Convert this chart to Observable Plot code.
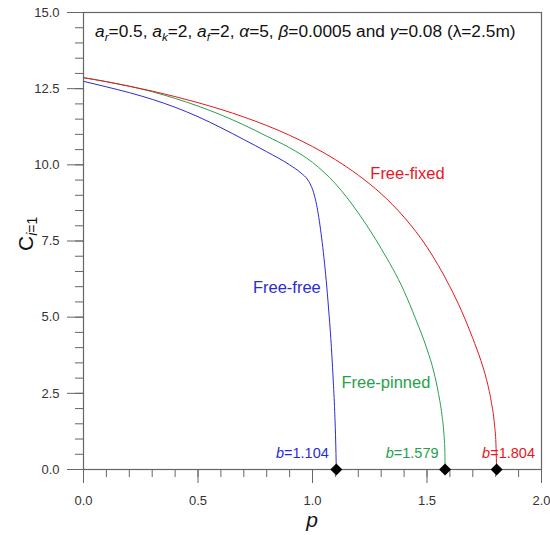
<!DOCTYPE html>
<html>
<head>
<meta charset="utf-8">
<script src="https://cdn.jsdelivr.net/npm/d3@7"></script>
<script src="https://cdn.jsdelivr.net/npm/@observablehq/plot@0.6"></script>
<style>
  html, body { margin: 0; padding: 0; background: #fff; }
</style>
</head>
<body>
<div id="chart"></div>
<script>
// ---------- data ----------
const seriesNames = ["Free-free", "Free-pinned", "Free-fixed"];
const seriesColors = ["#2b2bd6", "#27a04c", "#e8161e"];

const freeFreeP = [0, 0.1, 0.2, 0.3, 0.4, 0.5, 0.6, 0.7, 0.8, 0.9, 0.95, 0.98, 1.0, 1.01, 1.02, 1.03, 1.04, 1.05, 1.06, 1.07, 1.08, 1.09, 1.097, 1.101, 1.104];
const freeFreeC = [12.74, 12.56, 12.37, 12.15, 11.89, 11.58, 11.22, 10.83, 10.43, 10.0, 9.73, 9.5, 9.2, 8.95, 8.61, 8.15, 7.6, 6.95, 6.2, 5.3, 4.3, 3.0, 1.9, 1.0, 0];

const freePinnedP = [0, 0.1, 0.2, 0.3, 0.4, 0.5, 0.6, 0.7, 0.8, 0.9, 1.0, 1.1, 1.2, 1.3, 1.4, 1.45, 1.5, 1.53, 1.55, 1.565, 1.574, 1.578, 1.579];
const freePinnedC = [12.86, 12.73, 12.58, 12.4, 12.18, 11.93, 11.64, 11.31, 10.94, 10.56, 10.08, 9.38, 8.42, 7.25, 5.85, 4.95, 3.95, 3.2, 2.5, 1.8, 1.15, 0.6, 0];

const freeFixedP = [0, 0.1, 0.2, 0.3, 0.4, 0.5, 0.6, 0.7, 0.8, 0.9, 1.0, 1.1, 1.2, 1.3, 1.4, 1.5, 1.6, 1.65, 1.7, 1.735, 1.76, 1.78, 1.795, 1.801, 1.804];
const freeFixedC = [12.86, 12.73, 12.58, 12.42, 12.24, 12.04, 11.82, 11.57, 11.29, 10.97, 10.6, 10.17, 9.66, 9.05, 8.28, 7.3, 6.0, 5.22, 4.3, 3.58, 2.95, 2.25, 1.45, 0.85, 0];

const rootP = [1.104, 1.579, 1.804];
const rootLabels = ["=1.104", "=1.579", "=1.804"];

const xTicks = [0, 0.5, 1.0, 1.5, 2.0];
const xTickLabels = ["0.0", "0.5", "1.0", "1.5", "2.0"];
const yTicks = [0, 2.5, 5.0, 7.5, 10.0, 12.5, 15.0];
const yTickLabels = ["0.0", "2.5", "5.0", "7.5", "10.0", "12.5", "15.0"];
const xMinor = d3.range(0, 2.0001, 0.1).map(v => +v.toFixed(2));
const yMinor = d3.range(0, 15.0001, 0.5).map(v => +v.toFixed(2));

// ---------- build rows ----------
const seriesData = [[freeFreeP, freeFreeC], [freePinnedP, freePinnedC], [freeFixedP, freeFixedC]];
const rows = [];
seriesData.forEach(([ps, cs], k) => ps.forEach((p, i) => rows.push({series: seriesNames[k], p, C: cs[i]})));
const roots = rootP.map((p, i) => ({p, C: 0, label: rootLabels[i], series: seriesNames[i]}));

const FONT = "'Liberation Sans', Arial, Helvetica, sans-serif";
const AX = "#666";

const chart = Plot.plot({
  width: 550,
  height: 535,
  marginLeft: 83,
  marginRight: 9,
  marginTop: 12,
  marginBottom: 66,
  x: {domain: [0, 2]},
  y: {domain: [0, 15]},
  color: {domain: seriesNames, range: seriesColors},
  style: {fontFamily: FONT, fontSize: "13px", color: "#333", background: "#fff", overflow: "visible"},
  marks: [
    Plot.axisX(xMinor, {tickSize: 8, tickFormat: () => "", stroke: AX, label: null}),
    Plot.axisX(xTicks, {tickSize: 14, tickPadding: 12, tickFormat: d => xTickLabels[xTicks.indexOf(d)], stroke: AX, fill: "#333", label: null}),
    Plot.axisY(yMinor, {tickSize: 8, tickFormat: () => "", stroke: AX, label: null}),
    Plot.axisY(yTicks, {tickSize: 16, tickPadding: 8, tickFormat: d => yTickLabels[yTicks.indexOf(d)], stroke: AX, fill: "#333", label: null}),
    Plot.line(rows, {x: "p", y: "C", z: "series", stroke: "series", strokeWidth: 1, curve: "monotone-x"}),
    Plot.frame({stroke: AX, strokeWidth: 1.2}),
    Plot.dot(roots, {x: "p", y: "C", symbol: "diamond2", r: 5.4, fill: "black", stroke: "none"})
  ]
});

document.getElementById("chart").appendChild(chart);

// ---------- annotations ----------
const sx = chart.scale("x"), sy = chart.scale("y");
const svg = d3.select(chart);
const X = v => sx.apply(v), Y = v => sy.apply(v);

function richText(g, x, y, parts, opts) {
  const t = g.append("text")
    .attr("x", x).attr("y", y)
    .attr("font-family", FONT)
    .attr("font-size", opts.size)
    .attr("fill", opts.fill || "#000")
    .attr("text-anchor", opts.anchor || "start");
  if (opts.transform) t.attr("transform", opts.transform);
  let shift = 0;
  parts.forEach(pt => {
    const s = t.append("tspan").text(pt.t);
    if (pt.i) s.attr("font-style", "italic");
    const want = pt.sub ? (pt.subDy || 4) : 0;
    if (want !== shift) { s.attr("dy", want - shift); shift = want; }
    if (pt.sub) s.attr("font-size", pt.size || opts.size * 0.68);
  });
  return t;
}

// title annotation
richText(svg, 95, 36.5, [
  {t: "a", i: true}, {t: "r", i: true, sub: true},
  {t: "=0.5, "}, {t: "a", i: true}, {t: "k", i: true, sub: true},
  {t: "=2, "}, {t: "a", i: true}, {t: "f", i: true, sub: true},
  {t: "=2, "}, {t: "α", i: true}, {t: "=5, "}, {t: "β", i: true},
  {t: "=0.0005 and "}, {t: "γ", i: true}, {t: "=0.08 (λ=2.5m)"}
], {size: 17.3, fill: "#111"});

// axis labels
richText(svg, (X(0) + X(2)) / 2, 527, [{t: "p", i: true}], {size: 21, fill: "#111", anchor: "middle"});
richText(svg, 0, 0, [{t: "C"}, {t: "i", i: true, sub: true, size: 14, subDy: 4}, {t: "=1", sub: true, size: 14, subDy: 4}],
  {size: 21, fill: "#111", anchor: "start", transform: `translate(33,${Y(0) - 218}) rotate(-90)`});

// curve labels, anchored to points on each curve
const ptOf = (ps, cs, p) => { const i = ps.indexOf(p); return [X(ps[i]), Y(cs[i])]; };
{
  const [x, y] = ptOf(freeFreeP, freeFreeC, 1.06);
  svg.append("text").attr("x", x - 5).attr("y", y + 13).attr("text-anchor", "end")
    .attr("font-family", FONT).attr("font-size", 16.5).attr("fill", seriesColors[0]).text("Free-free");
}
{
  const [x, y] = ptOf(freePinnedP, freePinnedC, 1.53);
  svg.append("text").attr("x", x - 3).attr("y", y + 16.5).attr("text-anchor", "end")
    .attr("font-family", FONT).attr("font-size", 16.5).attr("fill", seriesColors[1]).text("Free-pinned");
}
{
  const [x, y] = ptOf(freeFixedP, freeFixedC, 1.2);
  svg.append("text").attr("x", x + 12.5).attr("y", y + 4.3).attr("text-anchor", "start")
    .attr("font-family", FONT).attr("font-size", 16.5).attr("fill", seriesColors[2]).text("Free-fixed");
}

// root labels
const rootOffsets = [{dx: -7, anchor: "end"}, {dx: -6, anchor: "end"}, {dx: -14, anchor: "start"}];
roots.forEach((r, i) => {
  richText(svg, X(r.p) + rootOffsets[i].dx, Y(r.C) - 11, [{t: "b", i: true}, {t: r.label}],
    {size: 14.5, fill: seriesColors[i], anchor: rootOffsets[i].anchor});
});
</script>
</body>
</html>
